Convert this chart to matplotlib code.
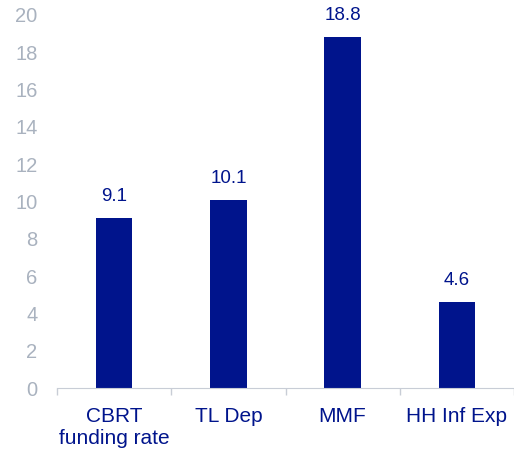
import numpy as np
import matplotlib.pyplot as plt

plt.rcParams['font.family'] = ['Liberation Sans', 'DejaVu Sans']

# data
categories = ['CBRT\nfunding rate', 'TL Dep', 'MMF', 'HH Inf Exp']
values = [9.1, 10.1, 18.8, 4.6]

navy = '#00148C'
grey = '#A9B2BF'

fig = plt.figure(figsize=(5.14, 4.5), dpi=100)
ax = fig.add_axes([57/514, 62/450, 1 - 57/514, (388 - 15)/450])

x = np.arange(len(categories))
bars = ax.bar(x, values, width=0.32, color=navy, zorder=2)
for xi, v in zip(x, values):
    ax.text(xi, v + 0.7, f'{v:.1f}', ha='center', va='bottom',
            fontsize=13.5, color=navy)

ax.set_xlim(-0.5, 3.5)
ax.set_ylim(0, 20)
ax.set_yticks(np.arange(0, 21, 2))
ax.tick_params(axis='y', length=0, labelsize=14.5, labelcolor=grey, pad=14)

ax.set_xticks(x)
ax.set_xticklabels(categories)
ax.tick_params(axis='x', length=0, labelsize=15, labelcolor=navy, pad=14)
ax.set_xticks(np.arange(-0.5, 4, 1), minor=True)
ax.tick_params(axis='x', which='minor', length=5, color='#C8CDD6', width=1)

for s in ['left', 'right', 'top']:
    ax.spines[s].set_visible(False)
ax.spines['bottom'].set_color('#C8CDD6')

fig.savefig('out.png', dpi=100)
